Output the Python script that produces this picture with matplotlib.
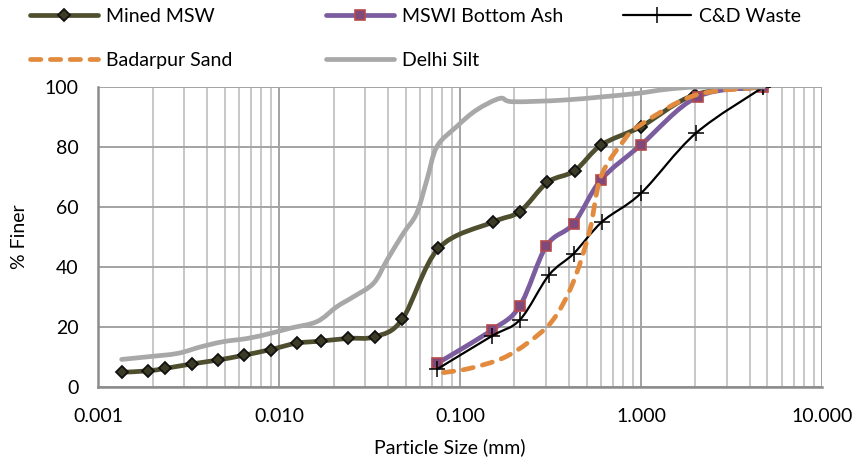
import numpy as np
import matplotlib
matplotlib.use("Agg")
import matplotlib.pyplot as plt
from matplotlib.path import Path
from matplotlib.patches import PathPatch
from matplotlib.lines import Line2D
from matplotlib.ticker import FixedLocator, FixedFormatter, LogLocator, NullFormatter

plt.rcParams['font.family'] = ['Lato', 'DejaVu Sans']

# Data
mined_size = [0.00135, 0.0019, 0.00235, 0.0033, 0.0046, 0.0064, 0.009, 0.0125, 0.017,
              0.024, 0.034, 0.048, 0.076, 0.152, 0.214, 0.304, 0.43, 0.604, 1.0, 2.0, 4.75]
mined_pct = [4.9, 5.4, 6.2, 7.7, 9.0, 10.6, 12.5, 14.6, 15.3,
             16.2, 16.8, 22.6, 46.2, 55.0, 58.5, 68.2, 72.1, 80.7, 86.8, 97.5, 100]

ash_size = [0.075, 0.15, 0.214, 0.30, 0.425, 0.60, 1.0, 2.06, 4.75]
ash_pct = [7.9, 19.0, 27.0, 47.0, 54.5, 69.0, 80.7, 96.8, 100]

cd_size = [0.075, 0.15, 0.215, 0.31, 0.425, 0.61, 1.0, 2.01, 4.75]
cd_pct = [6.0, 17.0, 22.5, 37.3, 44.5, 55.1, 64.6, 84.6, 100]

sand_size = [0.081, 0.113, 0.172, 0.24, 0.326, 0.42, 0.52, 0.60, 0.80, 1.0, 2.0, 4.75]
sand_pct = [4.8, 6.2, 9.6, 15.0, 22.3, 34.6, 52.0, 70.0, 82.0, 87.5, 97.3, 100]

silt_size = [0.00135, 0.0019, 0.00275, 0.0037, 0.0049, 0.0067, 0.009, 0.0115, 0.0162,
             0.0209, 0.0258, 0.0333, 0.0395, 0.0486, 0.0576, 0.0656, 0.0745, 0.0958,
             0.1232, 0.166, 0.196, 0.386, 0.9, 1.37, 2.1, 4.75]
silt_pct = [9.2, 10.1, 11.2, 13.4, 15.1, 16.2, 17.9, 19.6, 21.8,
            26.8, 30.1, 34.6, 42.3, 51.2, 57.9, 69.0, 80.1, 86.8,
            92.3, 96.2, 95.1, 95.7, 97.7, 99.2, 100, 100]

x_ticks = [0.001, 0.01, 0.1, 1, 10]
x_tick_labels = ["0.001", "0.010", "0.100", "1.000", "10.000"]
y_ticks = [0, 20, 40, 60, 80, 100]


def smooth_path(xs, ys):
    # Excel-like smoothed line: Catmull-Rom segments as cubic Beziers in log-x space
    lx = np.log10(xs)
    y = np.asarray(ys, dtype=float)
    n = len(lx)
    verts = [(xs[0], y[0])]
    codes = [Path.MOVETO]
    for i in range(n - 1):
        i0 = max(i - 1, 0)
        i3 = min(i + 2, n - 1)
        c1 = (lx[i] + (lx[i + 1] - lx[i0]) / 6, y[i] + (y[i + 1] - y[i0]) / 6)
        c2 = (lx[i + 1] - (lx[i3] - lx[i]) / 6, y[i + 1] - (y[i3] - y[i]) / 6)
        verts += [(10 ** c1[0], c1[1]), (10 ** c2[0], c2[1]), (xs[i + 1], y[i + 1])]
        codes += [Path.CURVE4] * 3
    return Path(verts, codes)


fig = plt.figure(figsize=(8.54, 4.66), dpi=100)
ax = fig.add_axes([0.1148, 0.1695, 0.8477, 0.6438])
ax.set_xscale('log')
ax.set_xlim(0.001, 10)
ax.set_ylim(0, 100)

series = [
    dict(x=mined_size, y=mined_pct, label="Mined MSW", color="#4f4f30", lw=3.4, ls='-',
         marker='D', ms=6.5, mfc="#3c3c26", mec="#111111", mew=1.3),
    dict(x=ash_size, y=ash_pct, label="MSWI Bottom Ash", color="#7b5c9e", lw=3.4, ls='-',
         marker='s', ms=7, mfc="#80497c", mec="#b84a4c", mew=1.2),
    dict(x=cd_size, y=cd_pct, label="C&D Waste", color="#000000", lw=1.6, ls='-',
         marker='+', ms=12, mfc="#000000", mec="#000000", mew=1.1),
    dict(x=sand_size, y=sand_pct, label="Badarpur Sand", color="#e28a3e", lw=3.4, ls=(0, (2.2, 2.0)),
         marker=None, ms=0, mfc="none", mec="none", mew=0),
    dict(x=silt_size, y=silt_pct, label="Delhi Silt", color="#a8a8a8", lw=3.4, ls='-',
         marker=None, ms=0, mfc="none", mec="none", mew=0),
]

handles = {}
for k, s in enumerate(series):
    patch = PathPatch(smooth_path(s['x'], s['y']), facecolor='none', edgecolor=s['color'],
                      linewidth=s['lw'], linestyle=s['ls'], capstyle='round', joinstyle='round',
                      zorder=3 + k)
    ax.add_patch(patch)
    if s['marker']:
        ax.plot(s['x'], s['y'], linestyle='none', marker=s['marker'], markersize=s['ms'],
                markerfacecolor=s['mfc'], markeredgecolor=s['mec'], markeredgewidth=s['mew'],
                zorder=3.5 + k)
    h = Line2D([], [], color=s['color'], linewidth=s['lw'], linestyle=s['ls'],
               marker=s['marker'], markersize=s['ms'], markerfacecolor=s['mfc'],
               markeredgecolor=s['mec'], markeredgewidth=s['mew'], dash_capstyle='round',
               solid_capstyle='round')
    handles[s['label']] = h

# Grid
ax.xaxis.set_major_locator(FixedLocator(x_ticks))
ax.xaxis.set_major_formatter(FixedFormatter(x_tick_labels))
ax.xaxis.set_minor_locator(LogLocator(base=10, subs=np.arange(2, 10)))
ax.xaxis.set_minor_formatter(NullFormatter())
ax.set_yticks(y_ticks)
ax.grid(True, which='major', axis='y', color='#a3a3a3', linewidth=1.4)
ax.grid(True, which='major', axis='x', color='#a3a3a3', linewidth=1.4)
ax.grid(True, which='minor', axis='x', color='#bdbdbd', linewidth=1.2)
ax.set_axisbelow(True)

for side in ['top', 'right']:
    ax.spines[side].set_visible(False)
for side in ['left', 'bottom']:
    ax.spines[side].set_color('#8c8c8c')
    ax.spines[side].set_linewidth(1.8)

ax.tick_params(axis='both', which='both', length=0, labelsize=14, colors='#000000')
ax.tick_params(axis='y', pad=14)
ax.tick_params(axis='x', pad=15)

ax.set_xlabel("Particle Size (mm)", fontsize=14)
ax.set_ylabel("% Finer", fontsize=14, labelpad=12)
ax.xaxis.set_label_coords((450 - 98) / 724, -0.17)

# Legend: three fixed columns like the original
cols = [(["Mined MSW", "Badarpur Sand"], 30), (["MSWI Bottom Ash", "Delhi Silt"], 326), (["C&D Waste"], 623)]
for labels, xpx in cols:
    leg = fig.legend([handles[l] for l in labels], labels, loc='upper left',
                     bbox_to_anchor=(xpx / 854, 1 - 8 / 466), frameon=False, fontsize=14,
                     handlelength=3.5, handletextpad=0.4, labelspacing=1.4,
                     borderpad=0, borderaxespad=0)

plt.savefig("out.png", dpi=100)
